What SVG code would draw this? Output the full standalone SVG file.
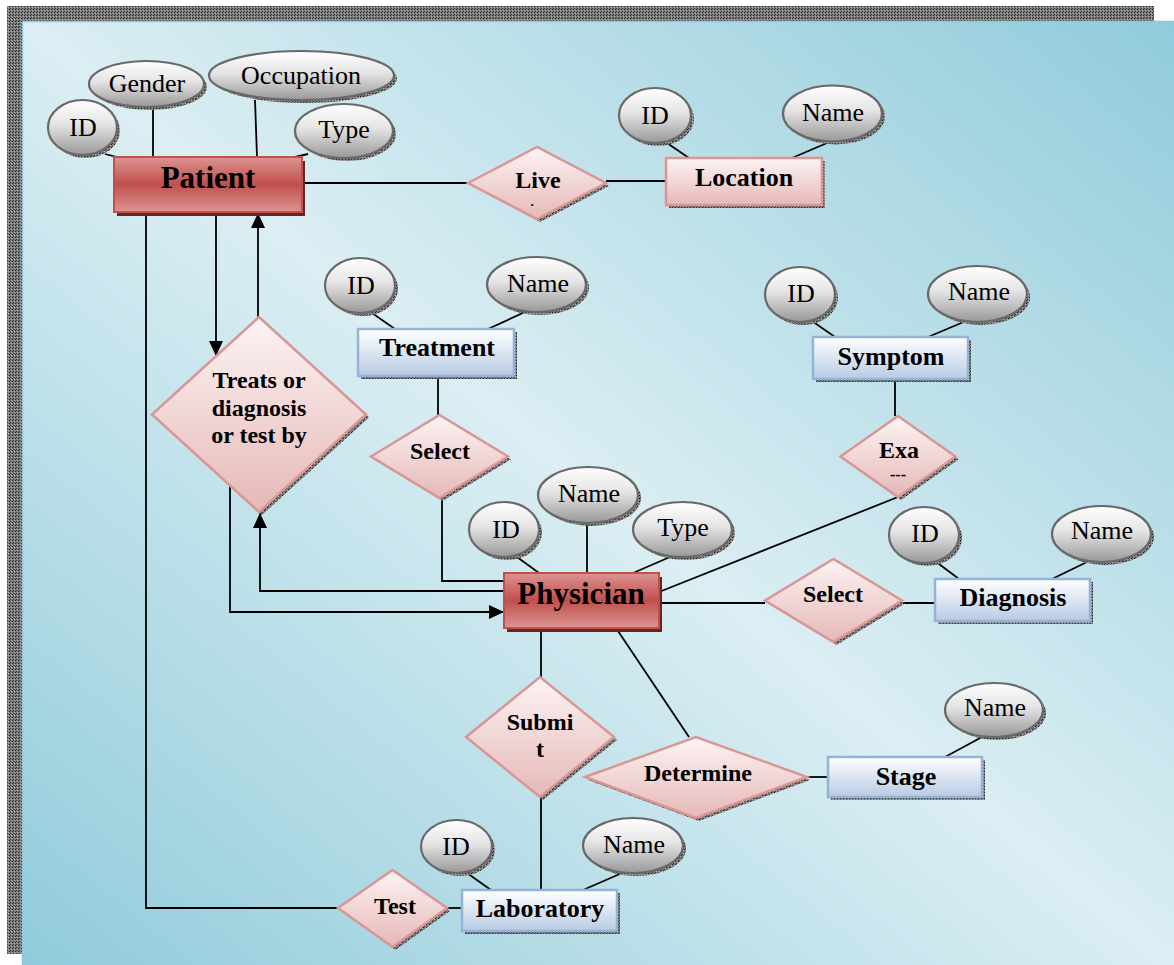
<svg xmlns="http://www.w3.org/2000/svg" width="1174" height="965" viewBox="0 0 1174 965">
<defs>
  <pattern id="chk" width="3" height="3" patternUnits="userSpaceOnUse">
    <rect width="3" height="3" fill="#7d7d7d"/>
    <rect width="1" height="1" fill="#1e1e1e"/>
    <rect x="2" y="1" width="1" height="1" fill="#b9a8a8"/>
    <rect x="1" y="2" width="1" height="1" fill="#3a3a3a"/>
  </pattern>
  <linearGradient id="bg" x1="0" y1="1" x2="1" y2="0">
    <stop offset="0" stop-color="#90cbdb"/>
    <stop offset="0.5" stop-color="#dbeef3"/>
    <stop offset="1" stop-color="#90cbdb"/>
  </linearGradient>
  <linearGradient id="gRed" x1="0" y1="0" x2="0" y2="1">
    <stop offset="0" stop-color="#dc9492"/>
    <stop offset="0.5" stop-color="#c0504d"/>
    <stop offset="1" stop-color="#dc9492"/>
  </linearGradient>
  <linearGradient id="gBlue" x1="0" y1="0" x2="0" y2="1">
    <stop offset="0" stop-color="#ffffff"/>
    <stop offset="1" stop-color="#b7cbe4"/>
  </linearGradient>
  <linearGradient id="gPink" x1="0" y1="0" x2="0" y2="1">
    <stop offset="0" stop-color="#fdf4f4"/>
    <stop offset="1" stop-color="#e5b8b7"/>
  </linearGradient>
  <linearGradient id="gEll" x1="0" y1="0" x2="0" y2="1">
    <stop offset="0" stop-color="#ffffff"/>
    <stop offset="0.45" stop-color="#e4e4e4"/>
    <stop offset="1" stop-color="#989898"/>
  </linearGradient>
  <marker id="arr" markerUnits="userSpaceOnUse" markerWidth="16" markerHeight="14" refX="15" refY="7" orient="auto">
    <path d="M0,0 L15,7 L0,14 z" fill="#000"/>
  </marker>
  <style>
    .ln{stroke:#000;stroke-width:1.8;fill:none}
    .sh{fill:url(#chk)}
    .shr{fill:#6b2421}
    .ell{fill:url(#gEll);stroke:#696969;stroke-width:2.2}
    .red{fill:url(#gRed);stroke:#c0504d;stroke-width:2}
    .blue{fill:url(#gBlue);stroke:#95b3d7;stroke-width:2.5}
    .pink{fill:url(#gPink);stroke:#d99694;stroke-width:2.5}
    .dia{fill:url(#gPink);stroke:#d99694;stroke-width:2.5}
    text{font-family:"Liberation Serif","Times New Roman",serif;text-anchor:middle;fill:#000}
    .ta{font-size:26px}
    .te{font-size:26px;font-weight:bold}
    .tE{font-size:31px;font-weight:bold}
    .tr{font-size:24px;font-weight:bold}
  </style>
</defs>

<rect x="7" y="6" width="1147" height="948" fill="url(#chk)"/>
<rect x="22" y="21" width="1152" height="944" fill="url(#bg)"/>
<path d="M22.5,965 V21.5 H1174" fill="none" stroke="#8ecadb" stroke-width="1.5"/>

<g id="connectors">
  <path class="ln" d="M302,183 H469"/>
  <path class="ln" d="M606,181 H666"/>
  <path class="ln" d="M216,212 V356" marker-end="url(#arr)"/>
  <path class="ln" d="M258,317 V213" marker-end="url(#arr)"/>
  <path class="ln" d="M146,212 V908 H338"/>
  <path class="ln" d="M447,908 H462"/>
  <path class="ln" d="M438,376 V415"/>
  <path class="ln" d="M442,498 V581 H504"/>
  <path class="ln" d="M504,591 H260 V513" marker-end="url(#arr)"/>
  <path class="ln" d="M230,486 V612 H504" marker-end="url(#arr)"/>
  <path class="ln" d="M659,592 L898,497"/>
  <path class="ln" d="M895,379 V416"/>
  <path class="ln" d="M659,603 H765"/>
  <path class="ln" d="M902,603 H935"/>
  <path class="ln" d="M541,628 V677"/>
  <path class="ln" d="M541,797 V890"/>
  <path class="ln" d="M616,628 L689,737"/>
  <path class="ln" d="M807,777 H828"/>
  <!-- attribute links -->
  <path class="ln" d="M105,154 L117,157"/>
  <path class="ln" d="M153,107 V157"/>
  <path class="ln" d="M255,100 L257,157"/>
  <path class="ln" d="M308,154 L295,157"/>
  <path class="ln" d="M667,143 L689,158"/>
  <path class="ln" d="M827,143 L792,158"/>
  <path class="ln" d="M372,313 L395,329"/>
  <path class="ln" d="M525,312 L488,329"/>
  <path class="ln" d="M812,321 L835,337"/>
  <path class="ln" d="M966,321 L928,337"/>
  <path class="ln" d="M517,557 L539,573"/>
  <path class="ln" d="M587,523 V573"/>
  <path class="ln" d="M670,557 L633,573"/>
  <path class="ln" d="M935,561 L959,579"/>
  <path class="ln" d="M1089,561 L1052,579"/>
  <path class="ln" d="M982,737 L945,757"/>
  <path class="ln" d="M467,873 L491,890"/>
  <path class="ln" d="M622,873 L583,890"/>
</g>

<!-- Entities -->
<g id="patient">
  <rect class="shr" x="117" y="161" width="188" height="55"/>
  <rect class="red" x="114" y="157" width="188" height="55"/>
  <text class="tE" x="208" y="188">Patient</text>
</g>
<g id="location">
  <rect class="sh" x="669" y="161" width="156" height="47"/>
  <rect class="pink" x="666" y="158" width="156" height="47"/>
  <text class="te" x="744" y="186">Location</text>
</g>
<g id="treatment">
  <rect class="sh" x="361" y="332" width="156" height="47"/>
  <rect class="blue" x="358" y="329" width="156" height="47"/>
  <text class="te" x="437" y="356">Treatment</text>
</g>
<g id="symptom">
  <rect class="sh" x="816" y="340" width="155" height="42"/>
  <rect class="blue" x="813" y="337" width="155" height="42"/>
  <text class="te" x="891" y="365">Symptom</text>
</g>
<g id="physician">
  <rect class="shr" x="507" y="577" width="155" height="55"/>
  <rect class="red" x="504" y="573" width="155" height="55"/>
  <text class="tE" x="581" y="604">Physician</text>
</g>
<g id="diagnosis">
  <rect class="sh" x="938" y="582" width="155" height="42"/>
  <rect class="blue" x="935" y="579" width="155" height="42"/>
  <text class="te" x="1013" y="606">Diagnosis</text>
</g>
<g id="stage">
  <rect class="sh" x="831" y="760" width="154" height="40"/>
  <rect class="blue" x="828" y="757" width="154" height="40"/>
  <text class="te" x="906" y="785">Stage</text>
</g>
<g id="laboratory">
  <rect class="sh" x="465" y="893" width="155" height="41"/>
  <rect class="blue" x="462" y="890" width="155" height="41"/>
  <text class="te" x="540" y="917">Laboratory</text>
</g>

<!-- Relationships -->
<g id="rel-live">
  <path class="sh" d="M472,186 L540,150 L609,186 L540,222 z"/>
  <path class="dia" d="M468,183 L537,147 L606,183 L537,219 z"/>
  <text class="tr" x="538" y="188">Live</text>
  <text class="tr" x="532" y="206" style="font-size:13px">.</text>
</g>
<g id="rel-treats">
  <path class="sh" d="M155,417.5 L262,320 L369,417.5 L262,515 z"/>
  <path class="dia" d="M152,414.5 L259,317 L366,414.5 L259,512 z"/>
  <text class="tr" x="259" y="388">Treats or</text>
  <text class="tr" x="259" y="416">diagnosis</text>
  <text class="tr" x="259" y="443">or test by</text>
</g>
<g id="rel-select-treatment">
  <path class="sh" d="M374,459.5 L442.5,418 L511,459.5 L442.5,501 z"/>
  <path class="dia" d="M371,456.5 L439.5,415 L508,456.5 L439.5,498 z"/>
  <text class="tr" x="440" y="459">Select</text>
</g>
<g id="rel-exa">
  <path class="sh" d="M843.5,459.5 L901,419 L958.5,459.5 L901,500 z"/>
  <path class="dia" d="M840.5,456.5 L898,416 L955.5,456.5 L898,497 z"/>
  <text class="tr" x="899" y="458">Exa</text>
  <text class="tr" x="898" y="480" style="font-size:16px">---</text>
</g>
<g id="rel-select-diagnosis">
  <path class="sh" d="M768,603.5 L836.5,562 L905,603.5 L836.5,645 z"/>
  <path class="dia" d="M765,600.5 L833.5,559 L902,600.5 L833.5,642 z"/>
  <text class="tr" x="833" y="602">Select</text>
</g>
<g id="rel-submit">
  <path class="sh" d="M469,740 L543,680 L617,740 L543,800 z"/>
  <path class="dia" d="M466,737 L540,677 L614,737 L540,797 z"/>
  <text class="tr" x="540" y="730">Submi</text>
  <text class="tr" x="540" y="757">t</text>
</g>
<g id="rel-determine">
  <path class="sh" d="M588,780 L699,740 L810,780 L699,821 z"/>
  <path class="dia" d="M585,777 L696,737 L807,777 L696,818 z"/>
  <text class="tr" x="698" y="781">Determine</text>
</g>
<g id="rel-test">
  <path class="sh" d="M341,911 L395.5,873 L450,911 L395.5,950 z"/>
  <path class="dia" d="M338,908 L392.5,870 L447,908 L392.5,947 z"/>
  <text class="tr" x="395" y="914">Test</text>
</g>

<!-- Attributes -->
<g id="attr-patient-id"><ellipse class="sh" cx="85.5" cy="130.5" rx="34.5" ry="27.5"/><ellipse class="ell" cx="82.5" cy="127.5" rx="34.5" ry="27.5"/><text class="ta" x="83" y="136">ID</text></g>
<g id="attr-patient-gender"><ellipse class="sh" cx="149.5" cy="87" rx="57.5" ry="23"/><ellipse class="ell" cx="146.5" cy="84" rx="57.5" ry="23"/><text class="ta" x="147" y="92">Gender</text></g>
<g id="attr-patient-occupation"><ellipse class="sh" cx="304.5" cy="78.5" rx="92.5" ry="24.5"/><ellipse class="ell" cx="301.5" cy="75.5" rx="92.5" ry="24.5"/><text class="ta" x="301" y="84">Occupation</text></g>
<g id="attr-patient-type"><ellipse class="sh" cx="347" cy="134" rx="49" ry="27"/><ellipse class="ell" cx="344" cy="131" rx="49" ry="27"/><text class="ta" x="344" y="138">Type</text></g>
<g id="attr-location-id"><ellipse class="sh" cx="658" cy="118.5" rx="36" ry="27.5"/><ellipse class="ell" cx="655" cy="115.5" rx="36" ry="27.5"/><text class="ta" x="655" y="124">ID</text></g>
<g id="attr-location-name"><ellipse class="sh" cx="835.5" cy="116.5" rx="49.5" ry="28"/><ellipse class="ell" cx="832.5" cy="113.5" rx="49.5" ry="28"/><text class="ta" x="833" y="121">Name</text></g>
<g id="attr-treatment-id"><ellipse class="sh" cx="363" cy="288.5" rx="35" ry="27.5"/><ellipse class="ell" cx="360" cy="285.5" rx="35" ry="27.5"/><text class="ta" x="361" y="294">ID</text></g>
<g id="attr-treatment-name"><ellipse class="sh" cx="539.5" cy="287.5" rx="49.5" ry="27.5"/><ellipse class="ell" cx="536.5" cy="284.5" rx="49.5" ry="27.5"/><text class="ta" x="538" y="292">Name</text></g>
<g id="attr-symptom-id"><ellipse class="sh" cx="803" cy="297.5" rx="35" ry="27.5"/><ellipse class="ell" cx="800" cy="294.5" rx="35" ry="27.5"/><text class="ta" x="801" y="302">ID</text></g>
<g id="attr-symptom-name"><ellipse class="sh" cx="980.5" cy="297" rx="49.5" ry="28"/><ellipse class="ell" cx="977.5" cy="294" rx="49.5" ry="28"/><text class="ta" x="979" y="300">Name</text></g>
<g id="attr-physician-id"><ellipse class="sh" cx="507" cy="532.5" rx="35" ry="27.5"/><ellipse class="ell" cx="504" cy="529.5" rx="35" ry="27.5"/><text class="ta" x="506" y="538">ID</text></g>
<g id="attr-physician-name"><ellipse class="sh" cx="591" cy="498" rx="50" ry="28"/><ellipse class="ell" cx="588" cy="495" rx="50" ry="28"/><text class="ta" x="589" y="502">Name</text></g>
<g id="attr-physician-type"><ellipse class="sh" cx="685.5" cy="532.5" rx="49.5" ry="27.5"/><ellipse class="ell" cx="682.5" cy="529.5" rx="49.5" ry="27.5"/><text class="ta" x="683" y="536">Type</text></g>
<g id="attr-diagnosis-id"><ellipse class="sh" cx="927" cy="538" rx="35" ry="28"/><ellipse class="ell" cx="924" cy="535" rx="35" ry="28"/><text class="ta" x="925" y="542">ID</text></g>
<g id="attr-diagnosis-name"><ellipse class="sh" cx="1104.5" cy="537" rx="49.5" ry="28"/><ellipse class="ell" cx="1101.5" cy="534" rx="49.5" ry="28"/><text class="ta" x="1102" y="539">Name</text></g>
<g id="attr-stage-name"><ellipse class="sh" cx="997" cy="713" rx="49" ry="27"/><ellipse class="ell" cx="994" cy="710" rx="49" ry="27"/><text class="ta" x="995" y="716">Name</text></g>
<g id="attr-laboratory-id"><ellipse class="sh" cx="459.5" cy="849.5" rx="35.5" ry="26.5"/><ellipse class="ell" cx="456.5" cy="846.5" rx="35.5" ry="26.5"/><text class="ta" x="456" y="855">ID</text></g>
<g id="attr-laboratory-name"><ellipse class="sh" cx="636" cy="848.5" rx="50" ry="27.5"/><ellipse class="ell" cx="633" cy="845.5" rx="50" ry="27.5"/><text class="ta" x="634" y="853">Name</text></g>
</svg>
